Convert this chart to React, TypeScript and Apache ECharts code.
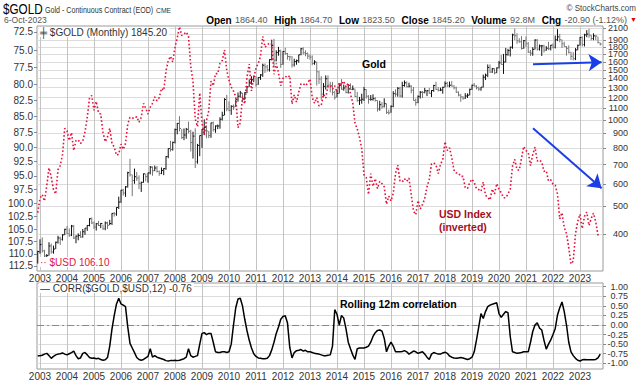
import React, { useEffect, useRef } from "react";
import * as echarts from "echarts";

// first monthly bar: December 2002
const FIRST_YEAR = 2002;
const FIRST_MONTH_INDEX = 11; // December (0-based)

const goldClose = [
  348,
  368, 350, 336, 337, 364, 347, 355, 375, 388, 384, 398, 416,
  402, 397, 427, 388, 394, 396, 391, 408, 420, 429, 453, 438,
  424, 435, 429, 436, 418, 438, 430, 436, 473, 471, 496, 518,
  570, 557, 585, 656, 645, 616, 635, 628, 602, 607, 650, 636,
  655, 686, 666, 681, 662, 652, 668, 678, 747, 796, 790, 837,
  928, 975, 936, 870, 888, 930, 915, 836, 880, 716, 817, 884,
  928, 943, 917, 884, 979, 927, 955, 955, 1008, 1040, 1182, 1097,
  1082, 1118, 1113, 1180, 1213, 1245, 1181, 1248, 1308, 1358, 1386, 1421,
  1333, 1410, 1439, 1556, 1536, 1500, 1628, 1825, 1620, 1725, 1746, 1566,
  1738, 1710, 1669, 1664, 1560, 1604, 1614, 1692, 1776, 1719, 1711, 1675,
  1662, 1579, 1597, 1476, 1393, 1234, 1313, 1396, 1327, 1323, 1251, 1202,
  1240, 1321, 1284, 1296, 1250, 1322, 1282, 1286, 1210, 1171, 1175, 1184,
  1279, 1213, 1183, 1183, 1190, 1172, 1095, 1133, 1115, 1142, 1065, 1061,
  1118, 1238, 1234, 1293, 1215, 1322, 1351, 1309, 1316, 1273, 1173, 1152,
  1211, 1253, 1251, 1268, 1268, 1242, 1270, 1322, 1280, 1271, 1275, 1303,
  1345, 1318, 1325, 1316, 1298, 1253, 1224, 1207, 1192, 1215, 1223, 1282,
  1325, 1316, 1298, 1285, 1305, 1413, 1437, 1529, 1472, 1513, 1464, 1523,
  1587, 1566, 1596, 1694, 1751, 1800, 1986, 1973, 1895, 1879, 1781, 1895,
  1850, 1729, 1715, 1768, 1905, 1771, 1817, 1818, 1757, 1784, 1776, 1829,
  1797, 1909, 1954, 1911, 1848, 1807, 1782, 1726, 1672, 1640, 1759, 1826,
  1945, 1836, 1986, 1999, 1982, 1929, 1970, 1966, 1866, 1845,
];

const goldHigh = [
  350,
  384, 390, 353, 341, 375, 371, 365, 377, 395, 392, 400, 418,
  427, 419, 431, 431, 396, 403, 410, 417, 420, 431, 455, 458,
  443, 438, 445, 438, 432, 443, 442, 449, 474, 478, 497, 541,
  571, 576, 589, 661, 733, 646, 678, 660, 642, 610, 652, 651,
  656, 692, 690, 695, 692, 668, 684, 681, 749, 797, 848, 842,
  935, 978, 1033, 931, 936, 940, 989, 926, 912, 937, 827, 885,
  931, 1007, 959, 917, 980, 990, 959, 966, 1024, 1071, 1194, 1227,
  1163, 1128, 1135, 1181, 1250, 1266, 1246, 1252, 1313, 1388, 1424, 1432,
  1423, 1414, 1448, 1576, 1578, 1560, 1632, 1911, 1923, 1755, 1804, 1763,
  1745, 1792, 1718, 1679, 1674, 1640, 1629, 1693, 1789, 1798, 1755, 1724,
  1697, 1684, 1620, 1601, 1488, 1424, 1349, 1434, 1434, 1362, 1361, 1267,
  1280, 1345, 1392, 1331, 1315, 1333, 1345, 1322, 1287, 1256, 1206, 1238,
  1307, 1284, 1224, 1224, 1232, 1205, 1175, 1169, 1157, 1192, 1145, 1088,
  1127, 1263, 1282, 1305, 1307, 1362, 1377, 1367, 1352, 1326, 1306, 1191,
  1221, 1265, 1264, 1297, 1272, 1298, 1274, 1329, 1362, 1306, 1300, 1309,
  1366, 1362, 1365, 1369, 1326, 1310, 1262, 1236, 1215, 1243, 1241, 1289,
  1331, 1349, 1326, 1311, 1306, 1443, 1455, 1566, 1566, 1523, 1519, 1528,
  1611, 1691, 1704, 1788, 1775, 1805, 2005, 2090, 2011, 1933, 1966, 1906,
  1962, 1875, 1759, 1798, 1917, 1919, 1837, 1832, 1835, 1815, 1877, 1831,
  1854, 1976, 2079, 2003, 1911, 1880, 1815, 1826, 1735, 1729, 1786, 1836,
  1955, 1963, 2004, 2063, 2085, 1985, 2011, 1982, 1955, 1866,
];

const goldLow = [
  316,
  342, 345, 323, 319, 337, 342, 342, 355, 371, 367, 380, 397,
  401, 391, 394, 385, 372, 381, 389, 389, 398, 411, 426, 434,
  417, 412, 427, 420, 414, 413, 417, 430, 431, 461, 464, 490,
  515, 546, 540, 582, 636, 543, 600, 614, 575, 562, 605, 612,
  605, 647, 640, 664, 657, 640, 648, 643, 671, 737, 777, 783,
  830, 893, 914, 860, 852, 862, 900, 778, 735, 681, 705, 749,
  801, 892, 865, 866, 868, 913, 904, 931, 934, 998, 1040, 1075,
  1075, 1044, 1087, 1113, 1161, 1200, 1155, 1178, 1243, 1308, 1331, 1358,
  1309, 1329, 1383, 1417, 1462, 1478, 1478, 1617, 1535, 1604, 1680, 1523,
  1563, 1692, 1627, 1612, 1527, 1540, 1562, 1588, 1686, 1697, 1672, 1636,
  1626, 1555, 1562, 1321, 1338, 1180, 1207, 1280, 1292, 1251, 1221, 1180,
  1202, 1240, 1277, 1268, 1241, 1240, 1280, 1273, 1206, 1160, 1131, 1142,
  1167, 1191, 1142, 1170, 1170, 1162, 1072, 1080, 1098, 1109, 1052, 1046,
  1062, 1110, 1207, 1208, 1200, 1200, 1310, 1303, 1302, 1241, 1171, 1124,
  1147, 1191, 1195, 1241, 1214, 1236, 1205, 1256, 1277, 1260, 1264, 1238,
  1303, 1307, 1303, 1311, 1282, 1246, 1211, 1160, 1180, 1187, 1196, 1221,
  1276, 1311, 1281, 1267, 1267, 1301, 1382, 1414, 1465, 1463, 1446, 1459,
  1517, 1564, 1451, 1591, 1680, 1670, 1776, 1902, 1849, 1862, 1765, 1776,
  1803, 1717, 1677, 1679, 1765, 1751, 1750, 1677, 1722, 1746, 1758, 1753,
  1781, 1781, 1890, 1872, 1787, 1805, 1681, 1710, 1623, 1617, 1621, 1755,
  1824, 1809, 1810, 1950, 1941, 1901, 1903, 1904, 1855, 1823,
];

const usdClose = [
  101.8,
  99.1, 98.4, 99.6, 96.8, 93.6, 95.2, 97.5, 98.3, 93.9, 93.2, 91.3, 86.9,
  87.3, 88.9, 87.6, 90.6, 88.9, 88.8, 89.4, 89.0, 87.5, 85.1, 82.1, 81.7,
  84.0, 82.6, 84.4, 84.6, 87.6, 89.1, 88.3, 86.9, 89.4, 90.0, 91.4, 91.2,
  89.5, 90.4, 89.4, 86.2, 85.1, 85.2, 85.3, 85.0, 85.9, 85.1, 82.9, 83.7,
  84.6, 83.5, 82.9, 81.9, 82.5, 82.0, 80.6, 80.9, 78.0, 76.5, 75.9, 76.7,
  74.6, 73.3, 71.8, 73.0, 72.8, 72.5, 73.1, 77.3, 79.6, 85.4, 86.6, 81.3,
  86.0, 88.0, 85.6, 84.1, 79.5, 80.2, 78.4, 78.4, 76.9, 76.5, 75.0, 77.9,
  79.4, 80.4, 81.0, 81.9, 86.8, 86.0, 81.8, 83.0, 78.9, 77.0, 81.0, 79.0,
  77.6, 76.9, 75.9, 73.1, 74.6, 74.3, 74.0, 74.2, 78.5, 76.9, 78.3, 80.2,
  79.1, 78.8, 79.0, 78.7, 83.0, 81.6, 82.7, 81.2, 79.9, 79.9, 80.2, 79.8,
  79.2, 82.0, 82.9, 82.0, 83.3, 83.2, 81.5, 82.1, 80.2, 80.2, 80.7, 80.2,
  81.2, 79.7, 80.1, 79.5, 80.4, 79.8, 81.5, 82.8, 86.0, 87.0, 88.4, 90.3,
  94.8, 95.3, 98.4, 94.6, 96.9, 95.5, 97.3, 96.0, 96.4, 97.0, 100.2, 98.7,
  99.6, 98.2, 94.6, 93.1, 95.9, 96.1, 95.5, 96.0, 95.4, 98.4, 101.5, 102.2,
  99.5, 101.1, 100.3, 99.1, 97.0, 95.6, 92.9, 92.7, 93.1, 94.6, 93.0, 92.1,
  89.1, 90.6, 90.1, 91.8, 94.0, 94.5, 94.5, 95.1, 95.1, 97.1, 97.3, 96.2,
  95.6, 96.2, 97.3, 97.5, 97.8, 96.1, 98.5, 98.9, 99.4, 97.4, 98.3, 96.4,
  97.4, 98.1, 99.0, 99.0, 98.3, 97.4, 93.3, 92.1, 93.9, 94.0, 91.9, 89.9,
  90.6, 90.9, 93.2, 91.3, 90.0, 92.4, 92.2, 92.6, 94.2, 94.1, 95.9, 95.7,
  96.5, 96.7, 98.3, 103.0, 101.8, 104.7, 105.9, 108.7, 112.1, 111.5, 105.9, 103.5,
  102.1, 104.9, 102.5, 101.7, 104.3, 102.9, 101.9, 103.6, 106.2, 106.1,
];

const corr12 = [
  -0.8,
  -0.8, -0.79, -0.76, -0.74, -0.8, -0.87, -0.82, -0.78, -0.76, -0.75, -0.73, -0.76,
  -0.78, -0.75, -0.72, -0.68, -0.8, -0.88, -0.86, -0.74, -0.72, -0.78, -0.85, -0.87,
  -0.86, -0.88, -0.87, -0.9, -0.92, -0.91, -0.85, -0.55, -0.1, 0.25, 0.55, 0.7,
  0.55, 0.52, 0.48, -0.05, -0.48, -0.6, -0.72, -0.85, -0.9, -0.92, -0.9, -0.86,
  -0.82, -0.62, -0.84, -0.8, -0.84, -0.86, -0.88, -0.9, -0.93, -0.94, -0.93, -0.93,
  -0.92, -0.93, -0.92, -0.9, -0.88, -0.84, -0.62, -0.8, -0.84, -0.82, -0.8, -0.5,
  -0.22, -0.2, -0.25, -0.22, -0.22, -0.45, -0.7, -0.72, -0.72, -0.7, -0.7, -0.72,
  -0.7, -0.5, 0.0, 0.45, 0.68, 0.7, 0.5, 0.15, -0.15, -0.4, -0.6, -0.75,
  -0.82, -0.86, -0.87, -0.88, -0.88, -0.87, -0.8, -0.65, -0.45, -0.22, -0.05, 0.15,
  0.22, 0.24, 0.05, -0.58, -0.86, -0.72, -0.67, -0.66, -0.64, -0.68, -0.66, -0.7,
  -0.7, -0.72, -0.74, -0.75, -0.76, -0.78, -0.8, -0.8, -0.79, -0.78, -0.55, 0.4,
  0.28, 0.0, 0.25, 0.18, -0.1, -0.45, -0.62, -0.78, -0.9, -0.62, -0.6, -0.6,
  -0.6, -0.58, -0.55, -0.45, -0.3, -0.2, -0.14, -0.13, -0.16, -0.35, -0.7, -0.55,
  -0.45, -0.55, -0.7, -0.7, -0.7, -0.69, -0.67, -0.7, -0.76, -0.72, -0.68, -0.7,
  -0.74, -0.72, -0.7, -0.76, -0.84, -0.9, -0.76, -0.72, -0.74, -0.76, -0.76, -0.73,
  -0.71, -0.74, -0.81, -0.84, -0.86, -0.87, -0.86, -0.85, -0.86, -0.88, -0.9, -0.88,
  -0.84, -0.7, -0.39, -0.05, 0.3, 0.17, 0.35, 0.48, 0.52, 0.54, 0.56, 0.58,
  0.3, 0.2, 0.28, 0.35, 0.32, -0.3, -0.7, -0.72, -0.74, -0.73, -0.72, -0.7,
  -0.7, -0.7, -0.45, -0.17, 0.0, 0.06, -0.08, -0.13, -0.4, -0.63, -0.5, -0.39,
  -0.25, -0.09, 0.26, 0.45, 0.6, 0.35, 0.0, -0.45, -0.7, -0.8, -0.87, -0.92,
  -0.94, -0.91, -0.9, -0.91, -0.91, -0.91, -0.91, -0.9, -0.86, -0.76,
];

const yearTicks = [2003, 2004, 2005, 2006, 2007, 2008, 2009, 2010, 2011, 2012, 2013, 2014, 2015, 2016, 2017, 2018, 2019, 2020, 2021, 2022, 2023];
const usdTicks = [72.5, 75, 77.5, 80, 82.5, 85, 87.5, 90, 92.5, 95, 97.5, 100, 102.5, 105, 107.5, 110, 112.5];
const goldTicks = [400, 500, 600, 700, 800, 900, 1000, 1100, 1200, 1300, 1400, 1500, 1600, 1700, 1800, 1900, 2000, 2100];
const corrTicks = [-1, -0.75, -0.5, -0.25, 0, 0.25, 0.5, 0.75, 1];

// blue arrows (start / end) in date + gold-price terms
const arrowFlat = [[2021.26, 1568], [2023.8, 1593]];
const arrowDown = [[2021.26, 937], [2023.8, 579]];

const X_MIN = 2002.889;
const X_MAX = 2023.852;
const USD_MIN = 71.69;
const USD_MAX = 113.6;

const months = goldClose.map((_, i) => FIRST_YEAR + (FIRST_MONTH_INDEX + i) / 12);

const FONT = "'Liberation Sans', Arial, sans-serif";
const GRID_LEFT = 37;
const USD_LABEL_MARGIN = 4;

// inverted logarithmic USD scale: the axis works on -ln(value)
const invLog = (v: number) => -Math.log(v);
const fromInvLog = (t: number) => Math.exp(-t);

const usdTickPos = usdTicks.map(invLog).sort((a, b) => a - b); // bottom label first
const usdBottomTick = usdTickPos[0];
const usdOtherTicks = usdTickPos.slice(1);

function buildOption() {
  const ohlc = months.map((m, i) => [
    m,
    goldHigh[i],
    goldLow[i],
    goldClose[i],
    i === 0 || goldClose[i] >= goldClose[i - 1] ? 1 : 0,
  ]);
  const usd = months.map((m, i) => [m, invLog(usdClose[i])]);
  const corr = months.map((m, i) => [m, corr12[i]]);

  const axisLabelBase = { fontSize: 10, lineHeight: 9, color: "#333", fontFamily: FONT, showMinLabel: true, showMaxLabel: true };

  const xAxisFor = (gridIndex: number) => ({
    type: "value", gridIndex, min: X_MIN, max: X_MAX,
    axisLine: { show: false },
    axisTick: { show: false, customValues: yearTicks },
    axisLabel: { ...axisLabelBase, customValues: yearTicks, formatter: (v: number) => String(Math.round(v)), margin: 3 },
    splitLine: { show: true, lineStyle: { color: "#c4c4c4", width: 1 } },
  });

  const topRect = { left: GRID_LEFT, right: 37, top: 26, height: 245 };

  return {
    animation: false,
    backgroundColor: "#ffffff",
    textStyle: { fontFamily: FONT },
    grid: [
      { ...topRect, show: true, borderColor: "#9a9a9a", borderWidth: 1, backgroundColor: "transparent" },
      { left: GRID_LEFT, right: 37, top: 283, height: 86, show: true, borderColor: "#9a9a9a", borderWidth: 1, backgroundColor: "transparent" },
      { ...topRect, show: false },
    ],
    xAxis: [
      xAxisFor(0),
      xAxisFor(1),
      { type: "value", gridIndex: 2, min: X_MIN, max: X_MAX, show: false },
    ],
    yAxis: [
      {
        type: "value", gridIndex: 2, position: "left", min: invLog(USD_MAX), max: invLog(USD_MIN),
        axisLine: { show: false },
        axisTick: { show: true, length: 3, customValues: usdTickPos, lineStyle: { color: "#888" } },
        axisLabel: { ...axisLabelBase, lineHeight: 8, customValues: usdOtherTicks, formatter: (t: number) => fromInvLog(t).toFixed(1), margin: USD_LABEL_MARGIN },
        splitLine: { show: false },
      },
      {
        type: "log", gridIndex: 0, position: "right", min: 297.6, max: 2133,
        axisLine: { show: false },
        axisTick: { show: true, length: 3, customValues: goldTicks, lineStyle: { color: "#888" } },
        axisLabel: { ...axisLabelBase, fontSize: 9, lineHeight: 7, customValues: goldTicks, formatter: (v: number) => String(Math.round(v)), align: "right", margin: 25 },
        splitLine: { show: true, lineStyle: { color: "#dcdcdc", width: 1 } },
      },
      {
        type: "value", gridIndex: 1, position: "right", min: -1.149, max: 1.097,
        axisLine: { show: false },
        axisTick: { show: true, length: 3, customValues: corrTicks, lineStyle: { color: "#888" } },
        axisLabel: { ...axisLabelBase, fontSize: 9, lineHeight: 8, customValues: corrTicks, formatter: (v: number) => v.toFixed(2), align: "right", margin: 25 },
        splitLine: { show: true, lineStyle: { color: "#dcdcdc", width: 1 } },
      },
    ],
    series: [
      {
        type: "custom", name: "$GOLD", xAxisIndex: 0, yAxisIndex: 1, data: ohlc,
        encode: { x: 0, y: [1, 2, 3] }, clip: true, z: 4,
        renderItem: (params: any, api: any) => {
          const x = api.value(0);
          const ph = api.coord([x, api.value(1)]);
          const pl = api.coord([x, api.value(2)]);
          const pc = api.coord([x, api.value(3)]);
          const col = api.value(4) ? "#111111" : "#777777";
          return {
            type: "group",
            children: [
              { type: "line", shape: { x1: ph[0], y1: ph[1], x2: pl[0], y2: pl[1] }, style: { stroke: col, lineWidth: 1 } },
              { type: "line", shape: { x1: pc[0], y1: pc[1], x2: pc[0] + 1.6, y2: pc[1] }, style: { stroke: col, lineWidth: 1 } },
            ],
          };
        },
      },
      {
        type: "line", name: "$USD", xAxisIndex: 2, yAxisIndex: 0, data: usd,
        showSymbol: false, symbol: "none", z: 5,
        lineStyle: { color: "#e5113d", width: 1.6, type: [1.6, 2.2] },
      },
      {
        // bottom USD tick label, positioned through the USD axis scale
        type: "custom", name: "usdBottomLabel", xAxisIndex: 2, yAxisIndex: 0,
        data: [[X_MIN, usdBottomTick]], clip: false, silent: true, z: 30,
        renderItem: (params: any, api: any) => {
          const pt = api.coord([api.value(0), api.value(1)]);
          return {
            type: "text", x: pt[0] - USD_LABEL_MARGIN, y: pt[1],
            style: {
              text: fromInvLog(api.value(1)).toFixed(1),
              fill: "#333", fontSize: 10, fontFamily: FONT,
              align: "right", verticalAlign: "middle",
            },
          };
        },
      },
      {
        type: "line", name: "arrows", xAxisIndex: 0, yAxisIndex: 1, data: [],
        showSymbol: false, z: 6,
        markLine: {
          silent: true, symbol: ["none", "arrow"], symbolSize: 13,
          label: { show: false },
          lineStyle: { color: "#1b3fe6", width: 2, type: "solid" },
          data: [
            [{ coord: arrowFlat[0] }, { coord: arrowFlat[1] }],
            [{ coord: arrowDown[0] }, { coord: arrowDown[1] }],
          ],
        },
      },
      {
        type: "line", name: "CORR", xAxisIndex: 1, yAxisIndex: 2, data: corr,
        showSymbol: false, symbol: "none", z: 5,
        lineStyle: { color: "#000", width: 1.5 },
        markLine: {
          silent: true, symbol: "none", label: { show: false },
          lineStyle: { color: "#8a8a8a", width: 1, type: [7, 3, 2, 3] },
          data: [{ yAxis: 0 }],
        },
      },
    ],
    graphic: [
      { type: "text", x: 3, y: 9, scaleX: 0.78, style: { text: "$GOLD", font: `15px ${FONT}`, fill: "#000", verticalAlign: "middle" } },
      { type: "text", x: 45, y: 10, scaleX: 0.75, style: { text: "Gold - Continuous Contract (EOD)", font: `9.5px ${FONT}`, fill: "#333", verticalAlign: "middle" } },
      { type: "text", x: 156, y: 10, scaleX: 0.85, style: { text: "CME", font: `8px ${FONT}`, fill: "#333", verticalAlign: "middle" } },
      { type: "text", x: 636, y: 8, scaleX: 0.85, style: { text: "© StockCharts.com", font: `9.5px ${FONT}`, fill: "#444", align: "right", verticalAlign: "middle" } },
      { type: "text", x: 4, y: 20, scaleX: 0.9, style: { text: "6-Oct-2023", font: `9.5px ${FONT}`, fill: "#555", verticalAlign: "middle" } },
      {
        type: "text", right: 13, top: 14,
        style: {
          text: "{b|Open} {v|1864.40}  {b|High} {v|1864.70}  {b|Low} {v|1823.50}  {b|Close} {v|1845.20}  {b|Volume} {v|92.8M}  {b|Chg} {v|-20.90 (-1.12%)}",
          rich: {
            b: { fontSize: 10, fontWeight: "bold", fill: "#000", fontFamily: FONT },
            v: { fontSize: 9, fill: "#555", fontFamily: FONT },
          },
        },
      },
      { type: "text", left: 630, top: 16, style: { text: "▼", font: `7px ${FONT}`, fill: "#e00000" } },
      { type: "text", left: 39, top: 27, z: 20, style: { text: "╪ $GOLD (Monthly) 1845.20", font: `10px ${FONT}`, fill: "#333", backgroundColor: "#fff", padding: [0, 2, 0, 1] } },
      { type: "text", left: 39, top: 257, z: 20, style: { text: "·· $USD 106.10", font: `10px ${FONT}`, fill: "#e5113d", backgroundColor: "#fff", padding: [0, 2, 0, 1] } },
      { type: "text", left: 39, top: 283, z: 20, style: { text: "— CORR($GOLD,$USD,12) -0.76", font: `10px ${FONT}`, fill: "#333", backgroundColor: "#fff", padding: [0, 2, 0, 1] } },
      { type: "text", left: 362, top: 58, z: 20, style: { text: "Gold", font: `bold 10.5px ${FONT}`, fill: "#000" } },
      { type: "text", left: 439, top: 208, z: 20, style: { text: "USD Index", font: `bold 10.5px ${FONT}`, fill: "#a50f1e" } },
      { type: "text", left: 439, top: 221, z: 20, style: { text: "(inverted)", font: `bold 10.5px ${FONT}`, fill: "#a50f1e" } },
      { type: "text", left: 340, top: 298, z: 20, style: { text: "Rolling 12m correlation", font: `bold 10.5px ${FONT}`, fill: "#000" } },
    ],
  };
}

export default function App() {
  const ref = useRef<HTMLDivElement>(null);
  useEffect(() => {
    if (!ref.current) return;
    const chart = echarts.init(ref.current, null, { renderer: "svg" });
    chart.setOption(buildOption() as any);
    return () => chart.dispose();
  }, []);
  return <div ref={ref} style={{ position: "absolute", left: 0, top: 0, width: 640, height: 382 }} />;
}
